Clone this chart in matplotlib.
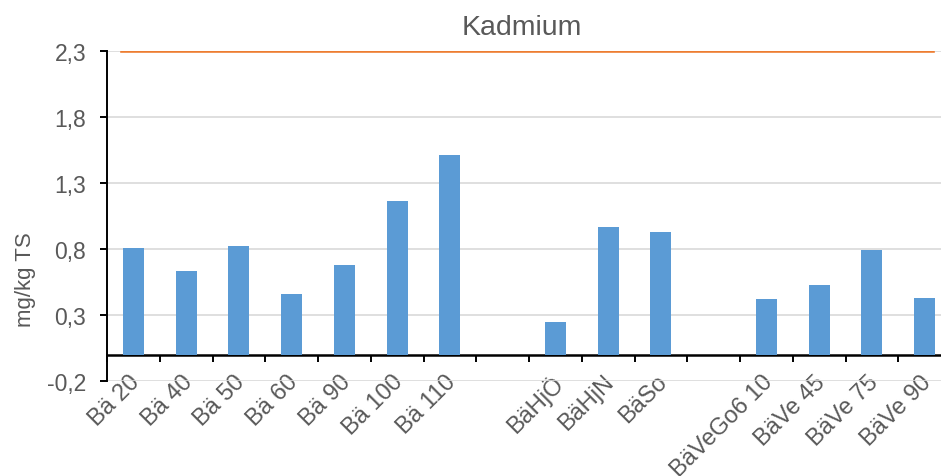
import numpy as np
import matplotlib
matplotlib.use("Agg")
import matplotlib.pyplot as plt
import matplotlib.transforms as mtransforms
from matplotlib.ticker import FixedLocator, FuncFormatter

plt.rcParams["font.family"] = ["Liberation Sans", "DejaVu Sans"]

# data
categories = ["Bä 20", "Bä 40", "Bä 50", "Bä 60", "Bä 90", "Bä 100", "Bä 110", "",
              "BäHjÖ", "BäHjN", "BäSo", "",
              "BäVeGo6 10", "BäVe 45", "BäVe 75", "BäVe 90"]
kadmium = [0.81, 0.63, 0.82, 0.46, 0.68, 1.16, 1.51, np.nan,
           0.25, 0.97, 0.93, np.nan,
           0.42, 0.53, 0.79, 0.43]
limit = 2.3
yticks = [-0.2, 0.3, 0.8, 1.3, 1.8, 2.3]

text_col = "#595959"
W, H = 941, 477
fig = plt.figure(figsize=(W / 100, H / 100), dpi=100)
# plot area runs a bit past the right edge like the source
ax = fig.add_axes([107 / W, 1 - 382 / H, (951 - 107) / W, 330 / H])

x = np.arange(len(categories))
ax.bar(x, kadmium, width=0.40, color="#5B9BD5", zorder=3)
ax.axhline(limit, xmin=0.0178, xmax=0.9787, color="#ED7D31", lw=2.6, zorder=4)

ax.set_xlim(-0.5, len(categories) - 0.5)
ax.set_ylim(yticks[0], yticks[-1])
ax.set_yticks(yticks)
ax.yaxis.set_major_formatter(FuncFormatter(lambda v, p: f"{v:.1f}".replace(".", ",")))
ax.grid(axis="y", color="#D9D9D9", lw=1.2, zorder=0)

for s in ["top", "right"]:
    ax.spines[s].set_visible(False)
ax.spines["left"].set_color("black")
ax.spines["left"].set_linewidth(1.4)
ax.spines["bottom"].set_position(("data", 0))
ax.spines["bottom"].set_color("black")
ax.spines["bottom"].set_linewidth(1.8)

ax.set_xticks(x)
ax.set_xticklabels(categories, rotation=45, ha="right", rotation_mode="anchor")
ax.xaxis.set_minor_locator(FixedLocator(np.arange(len(categories) + 1) - 0.5))
ax.tick_params(axis="x", which="major", length=0, pad=11.5, labelsize=17, labelcolor=text_col)
ax.tick_params(axis="x", which="minor", length=5, width=1.4, color="black", direction="out")
ax.tick_params(axis="y", length=5, width=1.4, color="black", labelsize=16.5, labelcolor=text_col, pad=10)

shift = mtransforms.ScaledTranslation(-5 / 100, 0, fig.dpi_scale_trans)
for lab in ax.get_xticklabels():
    lab.set_transform(lab.get_transform() + shift)

fig.text(25 / W, 1 - 280 / H, "mg/kg TS", rotation=90, ha="center", va="center",
         fontsize=16, color=text_col)
fig.text(522 / W, 1 - 28 / H, "Kadmium", ha="center", va="center",
         fontsize=20.5, color=text_col)

fig.savefig("out.png", dpi=100)
